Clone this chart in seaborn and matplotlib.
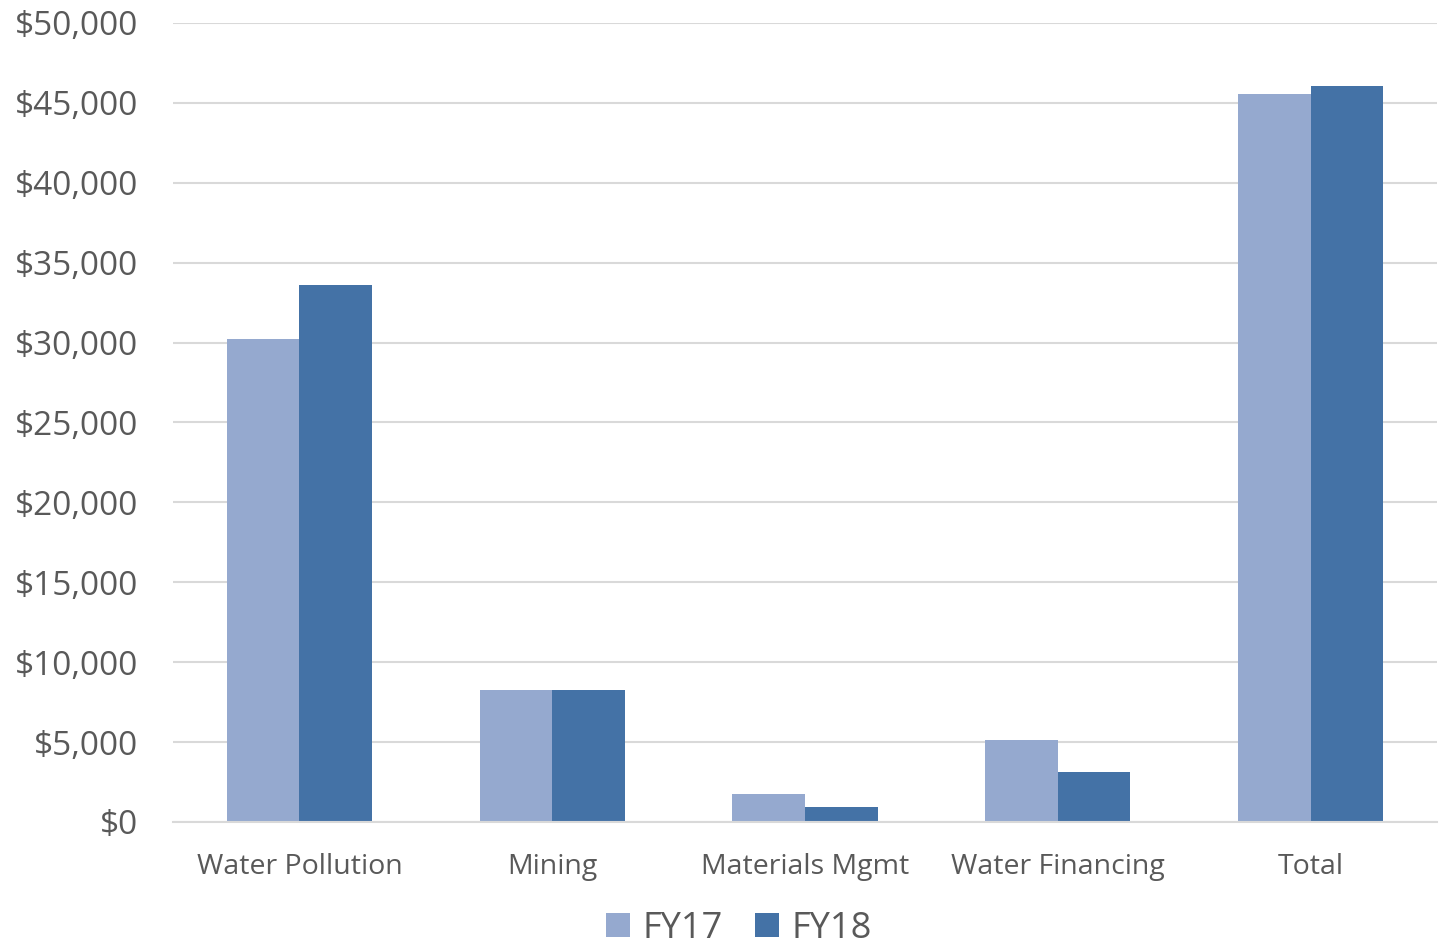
import matplotlib
matplotlib.use("Agg")
import matplotlib.pyplot as plt
import matplotlib.ticker as mticker
import seaborn as sns
import pandas as pd

categories = ["Water Pollution", "Mining", "Materials Mgmt", "Water Financing", "Total"]
fy17 = [30200, 8260, 1750, 5130, 45560]
fy18 = [33600, 8260, 940, 3130, 46080]
series_names = ["FY17", "FY18"]
colors = ["#95A9CF", "#4472A6"]

df = pd.DataFrame({
    "category": categories * 2,
    "year": [series_names[0]] * len(categories) + [series_names[1]] * len(categories),
    "value": fy17 + fy18,
})

sns.set_theme(style="white")
plt.rcParams["font.family"] = ["Open Sans", "DejaVu Sans"]
text_color = "#595959"

fig = plt.figure(figsize=(14.41, 9.48), dpi=100)
ax = fig.add_axes([173 / 1441, 1 - 822 / 948, (1437 - 173) / 1441, (822 - 23) / 948])

sns.barplot(data=df, x="category", y="value", hue="year", order=categories,
            hue_order=series_names, palette=colors, width=0.575,
            saturation=1, ax=ax, legend=True, linewidth=0, edgecolor="none")

ax.set_ylim(0, 50000)
ax.set_xlim(-0.5, len(categories) - 0.5)
ax.yaxis.set_major_locator(mticker.MultipleLocator(5000))
ax.yaxis.set_major_formatter(mticker.FuncFormatter(lambda v, p: f"${v:,.0f}"))
ax.grid(axis="y", color="#D9D9D9", linewidth=1.5)
ax.set_axisbelow(True)
for side in ["top", "right", "left"]:
    ax.spines[side].set_visible(False)
ax.spines["bottom"].set_color("#D9D9D9")
ax.spines["bottom"].set_linewidth(1.5)
ax.set_xlabel("")
ax.set_ylabel("")
ax.tick_params(axis="both", length=0, colors=text_color)
ax.tick_params(axis="y", labelsize=24, pad=25)
ax.tick_params(axis="x", labelsize=20.5, pad=22)

handles, labels = ax.get_legend_handles_labels()
ax.legend(handles, labels, loc="center",
          bbox_to_anchor=((739 - 173) / 1264, -(929 - 822) / 799),
          ncol=2, frameon=False, fontsize=26, labelcolor=text_color,
          handlelength=0.65, handleheight=0.65, handletextpad=0.35,
          columnspacing=0.9, borderaxespad=0, borderpad=0)

fig.savefig("out.png", dpi=100, facecolor="white")
